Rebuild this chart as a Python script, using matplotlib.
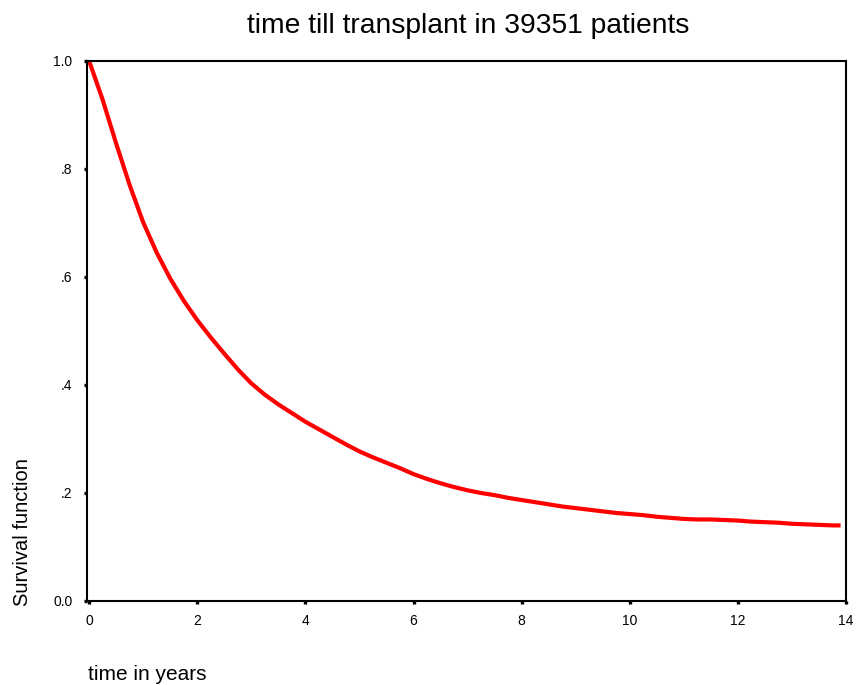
import matplotlib
matplotlib.use('Agg')
import matplotlib.pyplot as plt

plt.rcParams['font.family'] = ['Liberation Sans', 'DejaVu Sans']

# Kaplan-Meier estimate, time in years vs. proportion still waiting
years = [0.0, 0.25, 0.5, 0.75, 1.0, 1.25, 1.5, 1.75, 2.0, 2.25, 2.5, 2.75,
         3.0, 3.25, 3.5, 3.75, 4.0, 4.25, 4.5, 4.75, 5.0, 5.25, 5.5, 5.75,
         6.0, 6.25, 6.5, 6.75, 7.0, 7.25, 7.5, 7.75, 8.0, 8.25, 8.5, 8.75,
         9.0, 9.25, 9.5, 9.75, 10.0, 10.25, 10.5, 10.75, 11.0, 11.25, 11.5,
         11.75, 12.0, 12.25, 12.5, 12.75, 13.0, 13.25, 13.5, 13.75, 13.9]
survival = [1.000, 0.928, 0.847, 0.770, 0.701, 0.645, 0.597, 0.556, 0.520,
            0.488, 0.458, 0.429, 0.403, 0.382, 0.364, 0.348, 0.332, 0.318,
            0.304, 0.290, 0.277, 0.266, 0.256, 0.246, 0.235, 0.226, 0.218,
            0.211, 0.205, 0.200, 0.196, 0.191, 0.187, 0.183, 0.179, 0.175,
            0.172, 0.169, 0.166, 0.163, 0.161, 0.159, 0.156, 0.154, 0.152,
            0.151, 0.151, 0.150, 0.149, 0.147, 0.146, 0.145, 0.143, 0.142,
            0.141, 0.140, 0.140]

xticks = [0, 2, 4, 6, 8, 10, 12, 14]
yticks = [0.0, 0.2, 0.4, 0.6, 0.8, 1.0]
ylabels = ['0.0', '.2', '.4', '.6', '.8', '1.0']

W, H = 860, 685
fig = plt.figure(figsize=(W / 100, H / 100), dpi=100)
ax = fig.add_axes([87 / W, 1 - 601 / H, (846 - 87) / W, (601 - 61) / H])

ax.plot(years, survival, color='#ff0000', lw=3, solid_joinstyle='round',
        solid_capstyle='butt')

ax.set_xlim(-0.04, 14)
ax.set_ylim(0, 1)
ax.set_xticks(xticks)
ax.set_xticklabels([str(t) for t in xticks])
ax.set_yticks(yticks)
ax.set_yticklabels(ylabels)
ax.tick_params(direction='out', length=2.4, width=2.4, color='black',
               labelsize=10, labelcolor='black')
ax.tick_params(axis='x', pad=7)
ax.tick_params(axis='y', pad=8)
for sp in ax.spines.values():
    sp.set_linewidth(1.5)
    sp.set_color('black')

fig.text(468 / W, 1 - 33 / H, 'time till transplant in 39351 patients',
         ha='center', va='baseline', fontsize=20.3)
fig.text(88 / W, 1 - 680 / H, 'time in years', ha='left', va='baseline',
         fontsize=15)
fig.text(23 / W, 1 - 606 / H, 'Survival function', rotation=90,
         ha='center', va='bottom', fontsize=14.5)

fig.savefig('out.png', dpi=100, facecolor='white')
